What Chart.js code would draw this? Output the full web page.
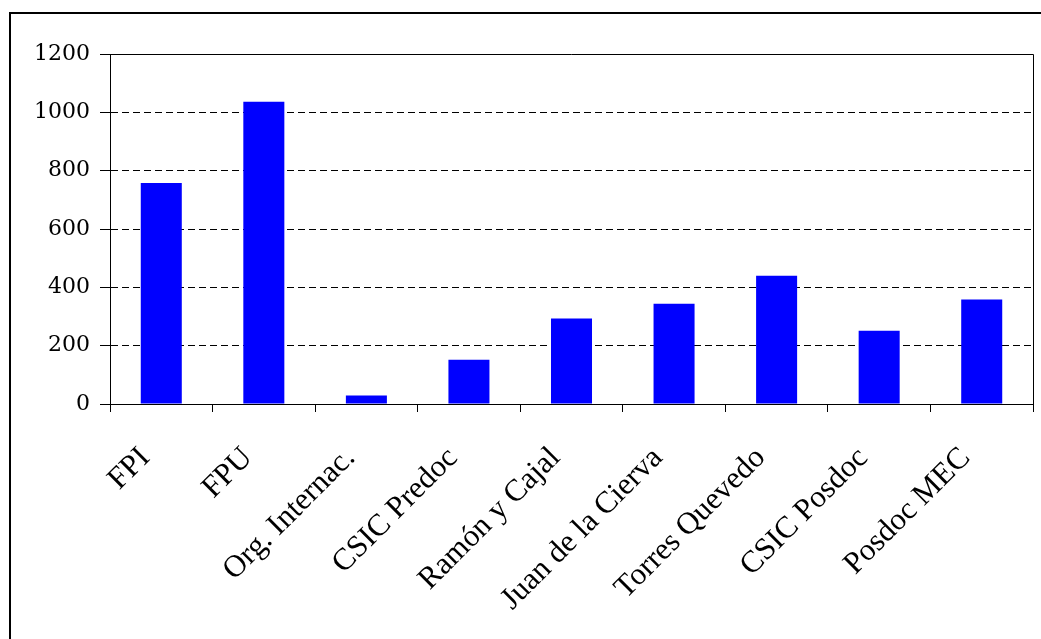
<!DOCTYPE html>
<html>
<head>
<meta charset="utf-8">
<script src="https://cdn.jsdelivr.net/npm/chart.js@4"></script>
<style>
  html, body { margin: 0; padding: 0; background: #fff; }
  #wrap { width: 1041px; height: 639px; }
</style>
</head>
<body>
<div id="wrap"><canvas id="chartBecas" width="1041" height="639"></canvas></div>
<script>
const categorias = ['FPI', 'FPU', 'Org. Internac.', 'CSIC Predoc', 'Ramón y Cajal',
    'Juan de la Cierva', 'Torres Quevedo', 'CSIC Posdoc', 'Posdoc MEC'];
const valores = [758, 1036, 29, 152, 293, 344, 440, 251, 358];
const yTicks = [0, 200, 400, 600, 800, 1000, 1200];

// marco exterior y borde del area de trazado
const marco = {
    id: 'marco',
    afterDraw(chart) {
        const ctx = chart.ctx;
        const a = chart.chartArea;
        ctx.save();
        ctx.fillStyle = '#000';
        ctx.fillRect(9, 12, 1032, 2);
        ctx.fillRect(9, 12, 2, 627);
        ctx.strokeStyle = '#000';
        ctx.lineWidth = 1;
        ctx.beginPath();
        ctx.moveTo(a.left, a.top + 0.5);
        ctx.lineTo(a.right + 0.5, a.top + 0.5);
        ctx.lineTo(a.right + 0.5, a.bottom);
        ctx.stroke();
        ctx.restore();
    }
};

const data = {
    labels: categorias,
    datasets: [{
        data: valores,
        backgroundColor: '#0000FF',
        borderWidth: 0,
        categoryPercentage: 1.0,
        barPercentage: 0.4
    }]
};

const config = {
    type: 'bar',
    data: data,
    options: {
        responsive: false,
        animation: false,
        devicePixelRatio: 1,
        layout: { padding: { top: 54, right: 8, bottom: 0, left: 0 } },
        plugins: {
            legend: { display: false },
            tooltip: { enabled: false }
        },
        scales: {
            x: {
                afterFit: function (scale) { scale.height = 235; },
                grid: {
                    offset: true,
                    drawOnChartArea: false,
                    drawTicks: true,
                    tickLength: 8,
                    tickColor: '#000'
                },
                border: { display: true, color: '#000', width: 1 },
                ticks: {
                    color: '#000',
                    minRotation: 45,
                    maxRotation: 45,
                    autoSkip: false,
                    padding: 28,
                    labelOffset: -16,
                    font: { family: '"Liberation Serif", serif', size: 31 }
                }
            },
            y: {
                min: 0,
                max: 1200,
                afterFit: function (scale) { scale.width = 110; },
                afterBuildTicks: function (scale) {
                    scale.ticks = yTicks.map(v => ({ value: v }));
                },
                grid: {
                    color: ctx => (ctx.tick && (ctx.tick.value === 0 || ctx.tick.value === 1200)) ? 'rgba(0,0,0,0)' : '#000',
                    lineWidth: 1,
                    drawTicks: true,
                    tickLength: 10,
                    tickColor: '#000'
                },
                border: { display: true, color: '#000', width: 1, dash: [7, 4] },
                ticks: {
                    color: '#000',
                    padding: 10,
                    callback: v => String(v),
                    font: { family: '"DejaVu Serif", serif', size: 22 }
                }
            }
        }
    },
    plugins: [marco]
};

const grafico = new Chart(document.getElementById('chartBecas'), config);
</script>
</body>
</html>
